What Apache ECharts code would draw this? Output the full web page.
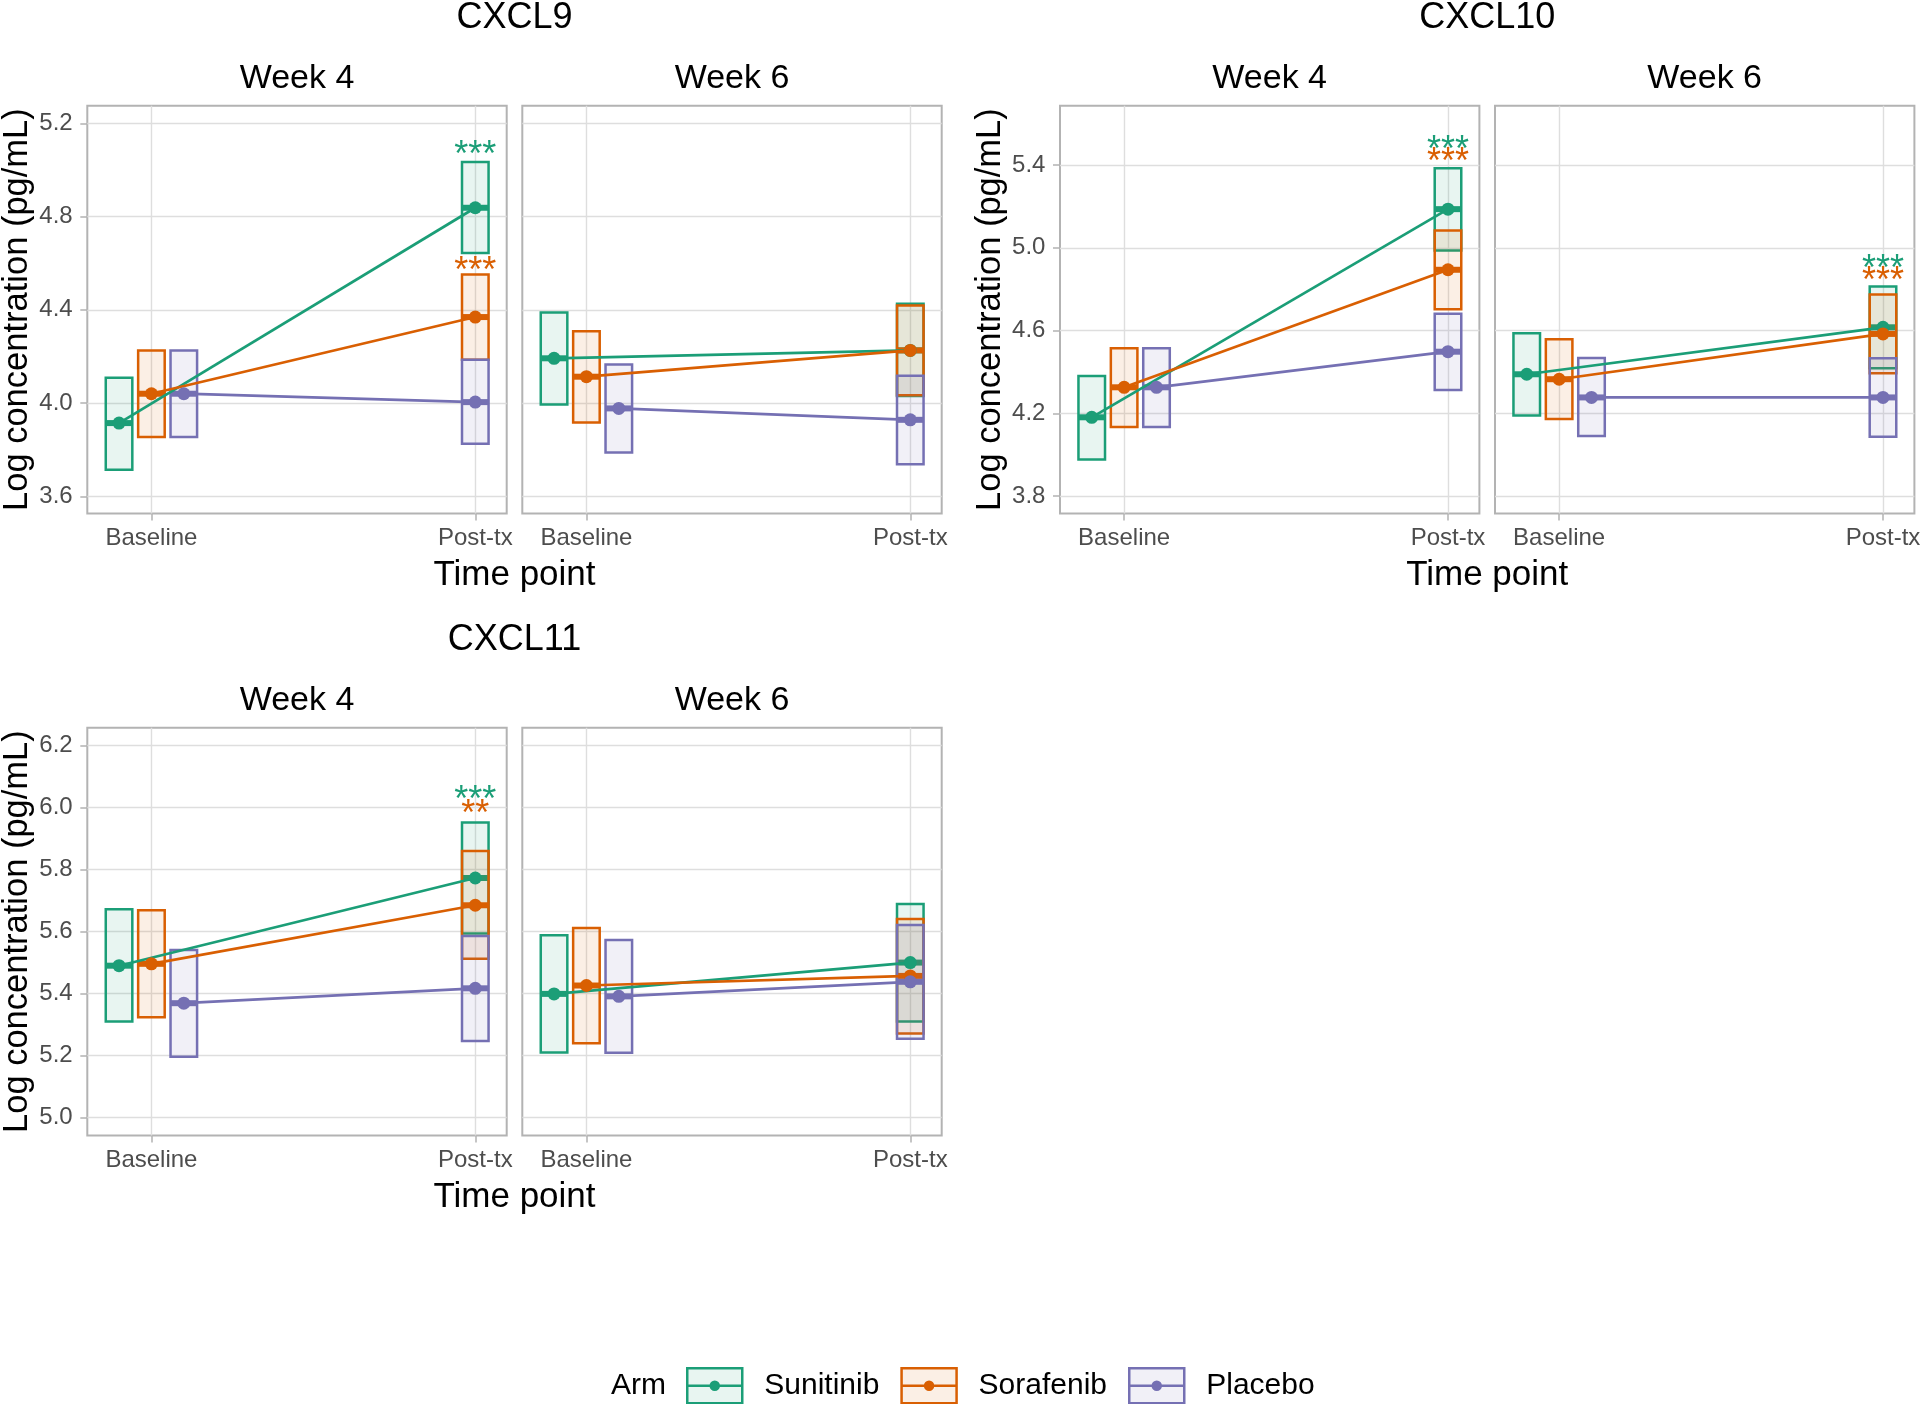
<!DOCTYPE html>
<html>
<head>
<meta charset="utf-8">
<title>CXCL9 / CXCL10 / CXCL11 by arm</title>
<script src="https://cdn.jsdelivr.net/npm/echarts@6/dist/echarts.min.js"></script>
<style>
  html, body { margin: 0; padding: 0; background: #fff; }
  #chart { width: 1920px; height: 1404px; }
</style>
</head>
<body>
<div id="chart"></div>
<script>
// ---- data ----
const arms = ['Sunitinib', 'Sorafenib', 'Placebo'];
const timePoints = ['Baseline', 'Post-tx'];
const markers = ['CXCL9', 'CXCL10', 'CXCL11'];
const weeks = ['Week 4', 'Week 6'];

// y ticks and y limits per chemokine
const cxcl9Ticks = [3.6, 4.0, 4.4, 4.8, 5.2];
const cxcl10Ticks = [3.8, 4.2, 4.6, 5.0, 5.4];
const cxcl11Ticks = [5.0, 5.2, 5.4, 5.6, 5.8, 6.0, 6.2];
const cxcl9Limits = [3.526, 5.276];
const cxcl10Limits = [3.716, 5.687];
const cxcl11Limits = [4.942, 6.258];

// rows: Sunitinib, Sorafenib, Placebo; columns: Baseline, Post-tx
const cxcl9W4Mean = [[3.914, 4.838], [4.040, 4.369], [4.040, 4.004]];
const cxcl9W4Low  = [[3.714, 4.644], [3.854, 4.186], [3.854, 3.825]];
const cxcl9W4High = [[4.109, 5.034], [4.226, 4.552], [4.226, 4.186]];

const cxcl9W6Mean = [[4.192, 4.226], [4.113, 4.226], [3.977, 3.928]];
const cxcl9W6Low  = [[3.994, 4.030], [3.917, 4.033], [3.788, 3.737]];
const cxcl9W6High = [[4.389, 4.426], [4.308, 4.419], [4.165, 4.117]];

const cxcl10W4Mean = [[4.181, 5.187], [4.326, 4.894], [4.326, 4.498]];
const cxcl10W4Low  = [[3.977, 4.987], [4.134, 4.703], [4.134, 4.313]];
const cxcl10W4High = [[4.381, 5.385], [4.515, 5.084], [4.515, 4.681]];

const cxcl10W6Mean = [[4.389, 4.616], [4.365, 4.584], [4.277, 4.277]];
const cxcl10W6Low  = [[4.190, 4.418], [4.173, 4.394], [4.090, 4.087]];
const cxcl10W6High = [[4.587, 4.813], [4.558, 4.774], [4.468, 4.466]];

const cxcl11W4Mean = [[5.490, 5.773], [5.496, 5.685], [5.369, 5.417]];
const cxcl11W4Low  = [[5.310, 5.594], [5.324, 5.512], [5.196, 5.247]];
const cxcl11W4High = [[5.672, 5.952], [5.669, 5.860], [5.541, 5.586]];

const cxcl11W6Mean = [[5.399, 5.500], [5.426, 5.457], [5.391, 5.438]];
const cxcl11W6Low  = [[5.210, 5.310], [5.240, 5.271], [5.209, 5.254]];
const cxcl11W6High = [[5.588, 5.689], [5.612, 5.641], [5.573, 5.621]];

// significance marks at Post-tx (label, y of the mark) per arm
const cxcl9W4Stars  = ['***', '***', ''];
const cxcl9W4StarY  = [5.102, 4.601, null];
const cxcl10W4Stars = ['***', '***', ''];
const cxcl10W4StarY = [5.516, 5.458, null];
const cxcl10W6Stars = ['***', '***', ''];
const cxcl10W6StarY = [4.939, 4.879, null];
const cxcl11W4Stars = ['***', '**', ''];
const cxcl11W4StarY = [6.051, 6.006, null];

// ---- styling / layout ----
const FONT = '"Liberation Sans", Arial, Helvetica, sans-serif';
const COLORS = ['#1B9E77', '#D95F02', '#7570B3'];
const FILLS = ['rgba(27,158,119,0.1)', 'rgba(217,95,2,0.1)', 'rgba(117,112,179,0.1)'];
const DODGE = [-0.1, 0, 0.1];      // baseline dodge, post-tx is not dodged
const BOX_HALF = 0.041;
const X_MIN = 0.802, X_MAX = 2.097;
const PANEL_W = 419.4, PANEL_H = 407.8;
const STAR_SHIFT = 9.5;            // px from glyph centre to text middle

const blocks = [
  { marker: 0, ticks: cxcl9Ticks, limits: cxcl9Limits, left: 87.3, top: 105.7 },
  { marker: 1, ticks: cxcl10Ticks, limits: cxcl10Limits, left: 1060, top: 105.7 },
  { marker: 2, ticks: cxcl11Ticks, limits: cxcl11Limits, left: 87.3, top: 727.7 },
];

const panels = [
  { block: 0, week: 0, mean: cxcl9W4Mean, low: cxcl9W4Low, high: cxcl9W4High, stars: cxcl9W4Stars, starY: cxcl9W4StarY },
  { block: 0, week: 1, mean: cxcl9W6Mean, low: cxcl9W6Low, high: cxcl9W6High },
  { block: 1, week: 0, mean: cxcl10W4Mean, low: cxcl10W4Low, high: cxcl10W4High, stars: cxcl10W4Stars, starY: cxcl10W4StarY },
  { block: 1, week: 1, mean: cxcl10W6Mean, low: cxcl10W6Low, high: cxcl10W6High, stars: cxcl10W6Stars, starY: cxcl10W6StarY },
  { block: 2, week: 0, mean: cxcl11W4Mean, low: cxcl11W4Low, high: cxcl11W4High, stars: cxcl11W4Stars, starY: cxcl11W4StarY },
  { block: 2, week: 1, mean: cxcl11W6Mean, low: cxcl11W6Low, high: cxcl11W6High },
];

function xPos(armIdx, tIdx) {
  return tIdx + 1 + (tIdx === 0 ? DODGE[armIdx] : 0);
}

function crossbarRenderer(armIdx) {
  return function (params, api) {
    const x = api.value(0);
    const bl = api.coord([x - BOX_HALF, api.value(2)]);
    const tr = api.coord([x + BOX_HALF, api.value(3)]);
    const mid = api.coord([x, api.value(1)]);
    return {
      type: 'group',
      children: [
        { type: 'rect',
          shape: { x: bl[0], y: tr[1], width: tr[0] - bl[0], height: bl[1] - tr[1] },
          style: { fill: FILLS[armIdx], stroke: COLORS[armIdx], lineWidth: 2.5 } },
        { type: 'line',
          shape: { x1: bl[0], y1: mid[1], x2: tr[0], y2: mid[1] },
          style: { stroke: COLORS[armIdx], lineWidth: 6 } },
      ],
    };
  };
}

function starRenderer(labels) {
  return function (params, api) {
    const p = api.coord([api.value(0), api.value(1)]);
    const armIdx = api.value(2);
    return {
      type: 'text',
      x: p[0], y: p[1] + STAR_SHIFT,
      style: {
        text: labels[armIdx], fill: COLORS[armIdx], font: '36px ' + FONT,
        align: 'center', verticalAlign: 'middle', textAlign: 'center', textVerticalAlign: 'middle',
      },
    };
  };
}

const grid = [], xAxis = [], yAxis = [], series = [];

panels.forEach((pn, i) => {
  const blk = blocks[pn.block];
  const left = blk.left + pn.week * 435;
  grid.push({
    left: left, top: blk.top, width: PANEL_W, height: PANEL_H,
    show: true, backgroundColor: '#fff', borderColor: '#B3B3B3', borderWidth: 2,
    containLabel: false, outerBoundsMode: 'none',
  });
  xAxis.push({
    gridIndex: i, type: 'value', min: X_MIN, max: X_MAX,
    splitLine: { show: false }, axisLine: { show: false },
    axisTick: { show: true, customValues: [1, 2], length: 7, lineStyle: { color: '#B3B3B3', width: 1.5 } },
    axisLabel: {
      customValues: [1, 2], formatter: v => timePoints[Math.round(v) - 1],
      color: '#4D4D4D', fontSize: 24, fontFamily: FONT, margin: 13,
    },
  });
  const isLeft = pn.week === 0;
  yAxis.push({
    gridIndex: i, type: 'value', min: blk.limits[0], max: blk.limits[1],
    splitLine: { show: false }, axisLine: { show: false },
    axisTick: { show: isLeft, customValues: blk.ticks, length: 7, lineStyle: { color: '#B3B3B3', width: 1.5 } },
    axisLabel: {
      show: isLeft, customValues: blk.ticks, formatter: v => v.toFixed(1),
      color: '#4D4D4D', fontSize: 24, fontFamily: FONT, margin: 14.6,
    },
    name: isLeft ? 'Log concentration (pg/mL)' : '',
    nameLocation: 'middle', nameRotate: 90, nameGap: 49,
    nameTextStyle: { fontSize: 34.5, color: '#000', fontFamily: FONT },
  });

  // grid lines (kept under the marks)
  series.push({
    type: 'line', xAxisIndex: i, yAxisIndex: i, data: [], z: 1, silent: true,
    markLine: {
      z: 1, silent: true, symbol: ['none', 'none'], animation: false,
      label: { show: false },
      lineStyle: { color: '#DEDEDE', width: 1.4, type: 'solid' },
      emphasis: { disabled: true },
      data: blk.ticks.map(v => ({ yAxis: v })).concat([1, 2].map(v => ({ xAxis: v }))),
    },
  });

  arms.forEach((arm, a) => {
    const pts = timePoints.map((t, k) => [xPos(a, k), pn.mean[a][k], pn.low[a][k], pn.high[a][k]]);
    series.push({
      name: arm, type: 'custom', xAxisIndex: i, yAxisIndex: i, z: 2,
      renderItem: crossbarRenderer(a), data: pts, silent: true,
    });
    series.push({
      name: arm, type: 'line', xAxisIndex: i, yAxisIndex: i, z: 3,
      data: pts.map(p => [p[0], p[1]]), symbol: 'none', silent: true,
      lineStyle: { color: COLORS[a], width: 2.7 },
    });
    series.push({
      name: arm, type: 'scatter', xAxisIndex: i, yAxisIndex: i, z: 4,
      data: pts.map(p => [p[0], p[1]]), symbolSize: 13, silent: true,
      itemStyle: { color: COLORS[a], opacity: 1 },
    });
  });

  if (pn.stars) {
    const starData = [];
    pn.starY.forEach((y, a) => { if (y != null) starData.push([2, y, a]); });
    series.push({
      type: 'custom', xAxisIndex: i, yAxisIndex: i, z: 5, silent: true,
      renderItem: starRenderer(pn.stars), data: starData,
    });
  }
});

function label(text, x, y, size, align) {
  return {
    type: 'text', x: x, y: y, silent: true,
    style: {
      text: text, fill: '#000', font: size + 'px ' + FONT,
      align: align || 'center', verticalAlign: 'middle',
      textAlign: align || 'center', textVerticalAlign: 'middle',
    },
  };
}

const graphic = [];
blocks.forEach(blk => {
  const centre = blk.left + (435 + PANEL_W) / 2;
  graphic.push(label(markers[blk.marker], centre, blk.top - 87.4, 36));
  weeks.forEach((w, k) => {
    graphic.push(label(w, blk.left + k * 435 + PANEL_W / 2, blk.top - 26.8, 34));
  });
  graphic.push(label('Time point', centre, blk.top + 469.6, 35));
});
graphic.push(label('Arm', 611, 1386, 30, 'left'));

// legend key: box, middle line and a filled dot (concentric strokes)
const KEY_ICON = 'path://M0,0H55V35H0Z M0,17.5H55' +
  ' M26.5,17.5a1,1 0 1,0 2,0a1,1 0 1,0 -2,0' +
  ' M25,17.5a2.5,2.5 0 1,0 5,0a2.5,2.5 0 1,0 -5,0' +
  ' M23.5,17.5a4,4 0 1,0 8,0a4,4 0 1,0 -8,0';

const option = {
  animation: false,
  backgroundColor: '#fff',
  textStyle: { fontFamily: FONT },
  grid, xAxis, yAxis, series, graphic,
  legend: {
    left: 686, top: 1367, padding: 0, orient: 'horizontal',
    itemWidth: 55, itemHeight: 35, itemGap: 21, selectedMode: false,
    textStyle: { fontSize: 30, color: '#000', fontFamily: FONT, padding: [0, 0, 0, 17] },
    data: arms.map((a, k) => ({
      name: a, icon: KEY_ICON,
      itemStyle: { color: FILLS[k], borderColor: COLORS[k], borderWidth: 2.5 },
    })),
  },
};

const chart = echarts.init(document.getElementById('chart'), null, { renderer: 'canvas' });
chart.setOption(option);
</script>
</body>
</html>
